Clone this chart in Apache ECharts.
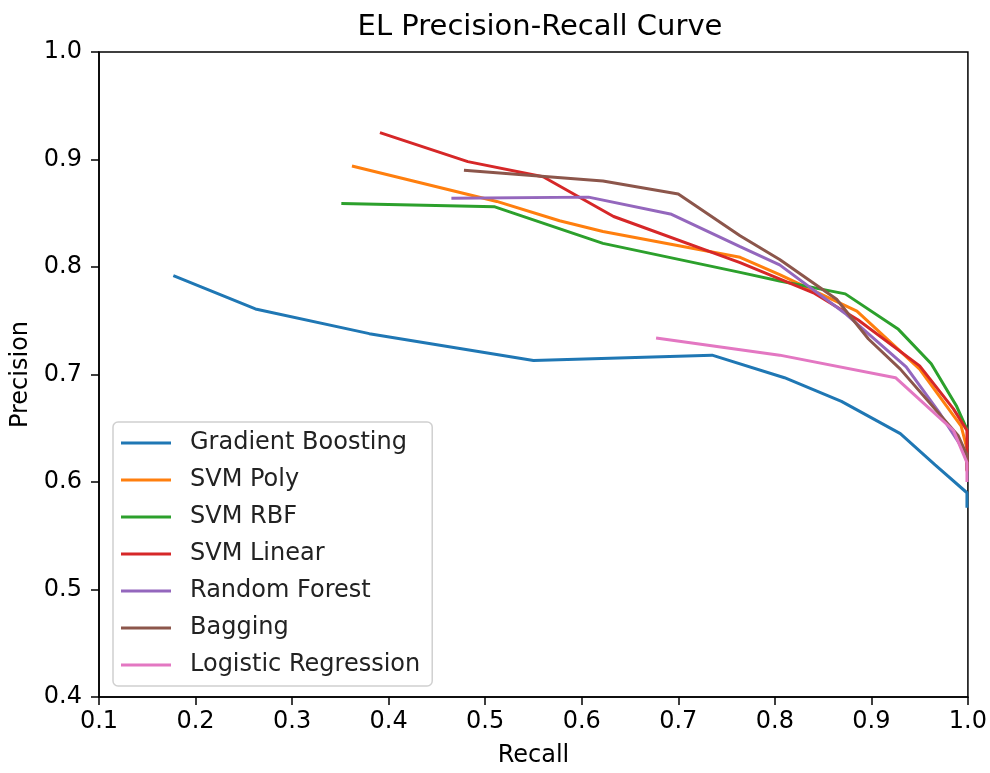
<!DOCTYPE html>
<html>
<head>
<meta charset="utf-8">
<script src="https://cdn.jsdelivr.net/npm/echarts@6/dist/echarts.min.js"></script>
<style>html,body{margin:0;padding:0;background:#fff}#c{width:990px;height:773px}</style>
</head>
<body>
<div id="c"></div>
<script>
const seriesNames = ["Gradient Boosting","SVM Poly","SVM RBF","SVM Linear","Random Forest","Bagging","Logistic Regression"];
const colors = ["#1f77b4","#ff7f0e","#2ca02c","#d62728","#9467bd","#8c564b","#e377c2"];

const gbRecall    = [0.177,0.262,0.38,0.55,0.735,0.81,0.869,0.93,0.966,0.999,0.999];
const gbPrecision = [0.792,0.761,0.738,0.713,0.718,0.697,0.675,0.645,0.616,0.590,0.576];

const polyRecall    = [0.362,0.512,0.577,0.622,0.764,0.805,0.885,0.95,0.993,0.999];
const polyPrecision = [0.894,0.861,0.843,0.833,0.809,0.793,0.759,0.705,0.652,0.631];

const rbfRecall    = [0.351,0.51,0.622,0.764,0.805,0.873,0.928,0.962,0.988,0.999];
const rbfPrecision = [0.859,0.856,0.822,0.795,0.787,0.775,0.742,0.710,0.671,0.649];

const linRecall    = [0.391,0.482,0.56,0.633,0.764,0.84,0.886,0.95,0.985,0.999,0.999];
const linPrecision = [0.925,0.898,0.884,0.847,0.804,0.776,0.751,0.708,0.668,0.648,0.61];

const rfRecall    = [0.465,0.607,0.693,0.764,0.805,0.874,0.936,0.97,0.999];
const rfPrecision = [0.864,0.865,0.849,0.819,0.802,0.756,0.707,0.665,0.625];

const bagRecall    = [0.478,0.622,0.7,0.764,0.805,0.864,0.897,0.93,0.99,0.999,0.999];
const bagPrecision = [0.890,0.880,0.868,0.829,0.807,0.770,0.733,0.705,0.643,0.625,0.611];

const lrRecall    = [0.677,0.805,0.925,0.985,0.999,0.999];
const lrPrecision = [0.734,0.718,0.697,0.648,0.618,0.600];

const xTicks = [0.1,0.2,0.3,0.4,0.5,0.6,0.7,0.8,0.9,1.0];
const yTicks = [0.4,0.5,0.6,0.7,0.8,0.9,1.0];

const recalls = [gbRecall,polyRecall,rbfRecall,linRecall,rfRecall,bagRecall,lrRecall];
const precisions = [gbPrecision,polyPrecision,rbfPrecision,linPrecision,rfPrecision,bagPrecision,lrPrecision];

const font = "DejaVu Sans";
const chart = echarts.init(document.getElementById('c'), null, {renderer:'canvas'});
chart.setOption({
  animation:false,
  backgroundColor:'#fff',
  color: colors,
  title:{text:'EL Precision-Recall Curve', left:535, top:8, textAlign:'center',
    textStyle:{fontFamily:font, fontSize:29, fontWeight:'normal', color:'#000'}},
  grid:{left:99, right:22, top:52, bottom:74, show:true, borderColor:'#000', borderWidth:1.5, backgroundColor:'transparent'},
  legend:{
    orient:'vertical', left:113, top:422, data:seriesNames,
    icon:'rect', itemWidth:50, itemHeight:3, itemGap:13,
    padding:[9,12,9,8],
    borderColor:'#d0d0d0', borderWidth:1.5, borderRadius:5, backgroundColor:'rgba(255,255,255,0.8)',
    textStyle:{fontFamily:font, fontSize:24, color:'#222', lineHeight:24, padding:[0,0,0,14]}
  },
  xAxis:{type:'value', min:xTicks[0], max:xTicks[xTicks.length-1], interval:0.1,
    name:'Recall', nameLocation:'middle', nameGap:47,
    nameTextStyle:{fontFamily:font, fontSize:24, color:'#000'},
    axisLine:{show:true, lineStyle:{color:'#000', width:1.5}},
    axisTick:{show:true, length:8, lineStyle:{color:'#000', width:1.5}},
    axisLabel:{fontFamily:font, fontSize:24, color:'#000', margin:13, formatter:v=>v.toFixed(1)},
    splitLine:{show:false}},
  yAxis:{type:'value', min:yTicks[0], max:yTicks[yTicks.length-1], interval:0.1,
    name:'Precision', nameLocation:'middle', nameGap:65,
    nameTextStyle:{fontFamily:font, fontSize:24, color:'#000'},
    axisLine:{show:true, lineStyle:{color:'#000', width:1.5}},
    axisTick:{show:true, length:8, lineStyle:{color:'#000', width:1.5}},
    axisLabel:{fontFamily:font, fontSize:24, color:'#000', margin:17, formatter:v=>v.toFixed(1)},
    splitLine:{show:false}},
  series: seriesNames.map((n,i)=>({
    name:n, type:'line', symbol:'none', smooth:false,
    lineStyle:{width:3, color:colors[i]}, itemStyle:{color:colors[i]},
    data: recalls[i].map((r,j)=>[r, precisions[i][j]])
  }))
});
</script>
</body>
</html>
